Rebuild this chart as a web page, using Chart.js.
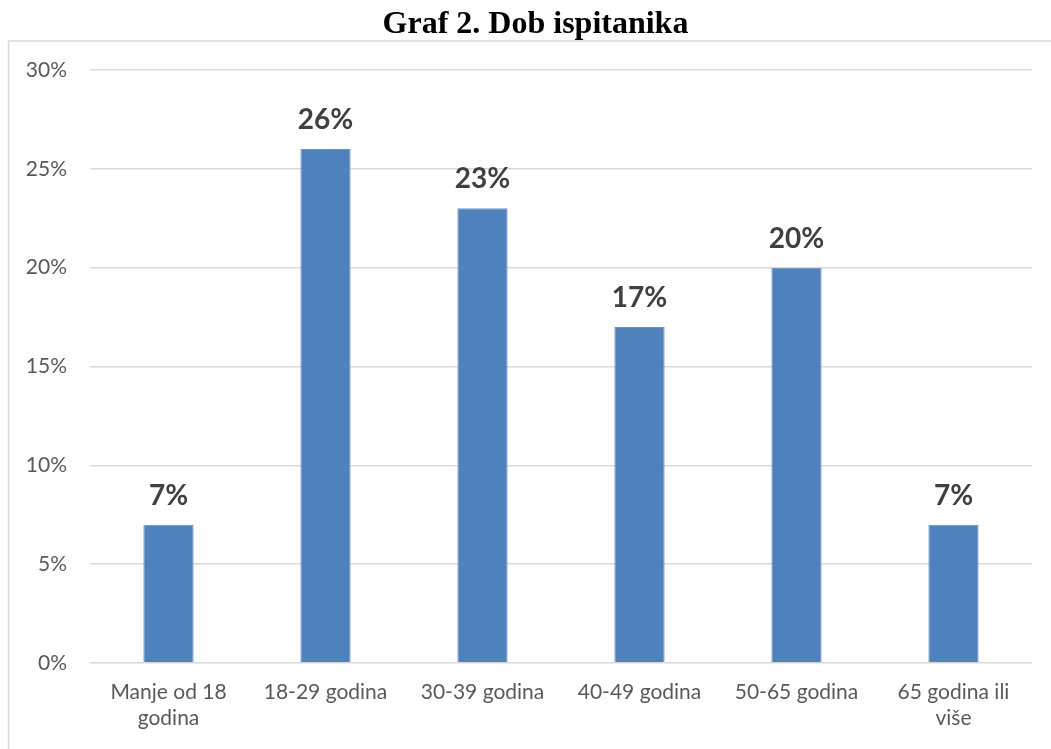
<!DOCTYPE html>
<html>
<head>
<meta charset="utf-8">
<script src="https://cdn.jsdelivr.net/npm/chart.js@4.4.0/dist/chart.umd.min.js"></script>
<style>
    html, body { margin: 0; padding: 0; background: #fff; }
    #wrap { width: 1051px; height: 749px; position: relative; }
    #title {
        position: absolute; left: 20px; right: 0; top: 4px;
        text-align: center;
        font: bold 32px "Liberation Serif", "Times New Roman", serif;
        color: #000;
    }
</style>
</head>
<body>
<div id="wrap">
    <canvas id="ageChart"></canvas>
    <div id="title">Graf 2. Dob ispitanika</div>
</div>
<script>
const categories = [["Manje od 18", "godina"], "18-29 godina", "30-39 godina", "40-49 godina", "50-65 godina", ["65 godina ili", "više"]];
const shares = [7, 26, 23, 17, 20, 7];
const yTicks = [0, 5, 10, 15, 20, 25, 30];

// okvir oko grafa (kao u Excelu)
const frame = {
    id: "frame",
    beforeDraw(chart) {
        const c = chart.ctx;
        c.save();
        c.strokeStyle = "#d9d9d9";
        c.lineWidth = 1.5;
        c.beginPath();
        c.moveTo(chart.width + 2, 41);
        c.lineTo(8.5, 41);
        c.lineTo(8.5, chart.height + 2);
        c.stroke();
        c.restore();
    }
};

// vrijednosti iznad stupaca
const barValues = {
    id: "barValues",
    afterDatasetsDraw(chart) {
        const c = chart.ctx;
        const meta = chart.getDatasetMeta(0);
        c.save();
        c.font = "bold 28px Lato";
        c.fillStyle = "#404040";
        c.textAlign = "center";
        c.textBaseline = "alphabetic";
        meta.data.forEach(function (bar, i) {
            c.fillText(shares[i] + "%", bar.x, bar.y - 20);
        });
        c.restore();
    }
};

new Chart(document.getElementById("ageChart"), {
    type: "bar",
    data: {
        labels: categories,
        datasets: [{
            data: shares,
            backgroundColor: "#4f81bd",
            borderColor: "#6a93c6",
            borderWidth: 1,
            categoryPercentage: 1,
            barPercentage: 0.32
        }]
    },
    options: {
        responsive: true,
        maintainAspectRatio: false,
        animation: false,
        layout: { padding: { left: 0, right: 19, top: 70, bottom: 0 } },
        plugins: {
            legend: { display: false },
            tooltip: { enabled: false },
            title: { display: false }
        },
        scales: {
            x: {
                grid: { display: false },
                border: { display: false },
                ticks: {
                    color: "#595959",
                    font: { family: "Lato", size: 21 },
                    padding: 9,
                    maxRotation: 0,
                    autoSkip: false
                },
                afterFit(scale) { scale.height = 86; }
            },
            y: {
                min: 0,
                max: 30,
                afterBuildTicks(scale) {
                    scale.ticks = yTicks.map(v => ({ value: v }));
                },
                grid: { color: "#d9d9d9", lineWidth: 1.5, drawTicks: false },
                border: { display: false },
                ticks: {
                    color: "#595959",
                    font: { family: "Lato", size: 21 },
                    padding: 23,
                    callback: v => v + "%"
                },
                afterFit(scale) { scale.width = 90; }
            }
        }
    },
    plugins: [frame, barValues]
});
</script>
</body>
</html>
